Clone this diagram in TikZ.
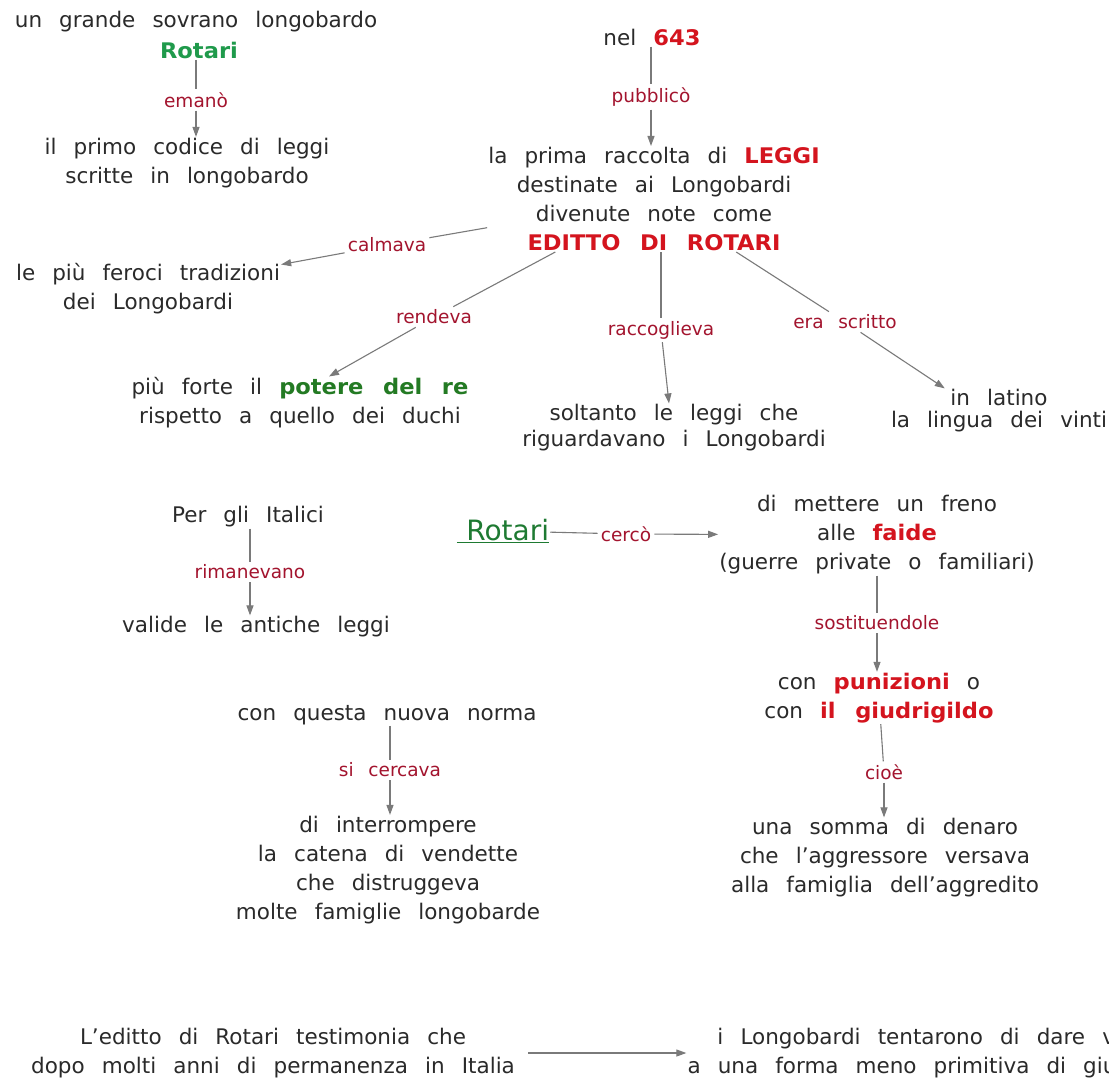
\documentclass[tikz,border=0pt]{standalone}
\usepackage{fontspec}
\setmainfont{DejaVu Sans}[WordSpace=2.5,BoldFeatures={FakeStretch=1.05}]
\usetikzlibrary{arrows.meta}
\definecolor{txtc}{HTML}{2A2A2A}
\definecolor{lblc}{HTML}{A3142E}
\definecolor{redB}{HTML}{D4141E}
\definecolor{greenA}{HTML}{1F9A4B}
\definecolor{greenB}{HTML}{237A23}
\definecolor{greenC}{HTML}{1E7A32}
\definecolor{linec}{HTML}{7A7A7A}
\begin{document}
\begin{tikzpicture}[x=1pt,y=-1pt,
  txt/.style={font=\fontsize{21.5}{29}\selectfont, text=txtc, align=center, inner sep=1pt},
  lbl/.style={font=\fontsize{18.5}{20}\selectfont, text=lblc, inner sep=3pt},
  con/.style={draw=linec, line width=1.1pt},
  arr/.style={con, -{Triangle[length=10pt,width=7pt]}}]
\useasboundingbox (0,0) rectangle (1109,1077);
\clip (0,0) rectangle (1109,1077);
\fill[white] (0,0) rectangle (1109,1077);
% top left
\node[txt] (t1) at (196,22) {un grande sovrano longobardo};
\node[txt] (rot1) at (199,50) {\textbf{\color{greenA}Rotari}};
\node[lbl] (l1) at (196,100) {emanò};
\node[txt] (t2) at (187,163) {il primo codice di leggi\\scritte in longobardo};
\draw[con] (rot1.south -| l1) -- (l1);
\draw[arr] (l1) -- (l1 |- t2.north);
% top centre
\node[txt] (n643) at (652,37) {nel \textbf{\color{redB}643}};
\node[lbl] (l2) at (651,97) {pubblicò};
\node[txt] (b) at (654,199) {la prima raccolta di \textbf{\color{redB}LEGGI}\\destinate ai Longobardi\\divenute note come\\\textbf{\color{redB}EDITTO DI ROTARI}};
\draw[con] (n643.south -| l2) -- (l2);
\draw[arr] (l2) -- (l2 |- b.north);
% branches
\node[lbl] (l3) at (387,245) {calmava};
\node[txt] (t3) at (148,289) {le più feroci tradizioni\\dei Longobardi};
\draw[con] (b) -- (l3);
\draw[arr] (l3) -- (t3);
\node[lbl] (l4) at (434,317) {rendeva};
\node[txt] (t4) at (300,403) {più forte il \textbf{\color{greenB}potere del re}\\rispetto a quello dei duchi};
\draw[con] (b) -- (l4);
\draw[arr] (l4) -- ([xshift=29pt]t4.north);
\node[lbl] (l5) at (661,330) {raccoglieva};
\node[txt, font=\fontsize{21.5}{26}\selectfont] (t5) at (674,428) {soltanto le leggi che\\riguardavano i Longobardi};
\draw[con] (l5 |- b.south) -- (l5);
\draw[arr] (l5) -- ([xshift=-5pt]t5.north);
\node[lbl] (l6) at (845,322) {era scritto};
\node[txt, font=\fontsize{21.5}{22}\selectfont] (t6) at (999,411) {in latino\\la lingua dei vinti};
\draw[con] (b) -- (l6);
\draw[arr] (l6) -- ([xshift=55pt]t6.north west);
% middle left
\node[txt] (t7) at (248,517) {Per gli Italici};
\node[lbl] (l7) at (250,572) {rimanevano};
\node[txt] (t8) at (256,627) {valide le antiche leggi};
\draw[con] (t7.south -| l7) -- (l7);
\draw[arr] (l7) -- (l7 |- t8.north);
% middle right
\node[txt, font=\fontsize{28}{30}\selectfont, text=greenC] (rot2) at (503,531) {\underline{\,\,Rotari}};
\node[lbl] (l8) at (626,534) {cercò};
\node[txt] (t9) at (877,535) {di mettere un freno\\alle \textbf{\color{redB}faide}\\(guerre private o familiari)};
\draw[con] (rot2) -- (l8);
\draw[arr] (l8) -- (t9);
\node[lbl] (l9) at (877,623) {sostituendole};
\node[txt] (t10) at (879,698) {con \textbf{\color{redB}punizioni} o\\con \textbf{\color{redB}il giudrigildo}};
\draw[con] (t9.south -| l9) -- (l9);
\draw[arr] (l9) -- (l9 |- t10.north);
\node[lbl] (l10) at (884,772) {cioè};
\node[txt] (t11) at (885,858) {una somma di denaro\\che l’aggressore versava\\alla famiglia dell’aggredito};
\draw[con] (t10) -- (l10);
\draw[arr] (l10) -- (l10 |- t11.north);
% lower middle
\node[txt] (t12) at (387,715) {con questa nuova norma};
\node[lbl] (l11) at (390,770) {si cercava};
\node[txt] (t13) at (388,870) {di interrompere\\la catena di vendette\\che distruggeva\\molte famiglie longobarde};
\draw[con] (t12.south -| l11) -- (l11);
\draw[arr] (l11) -- (l11 |- t13.north);
% bottom
\node[txt] (t14) at (273,1053) {L’editto di Rotari testimonia che\\dopo molti anni di permanenza in Italia};
\node[txt] (t15) at (930,1053) {i Longobardi tentarono di dare vita\\a una forma meno primitiva di giustizia};
\draw[arr, shorten <=12pt] (t14) -- (t15);
\end{tikzpicture}
\end{document}
